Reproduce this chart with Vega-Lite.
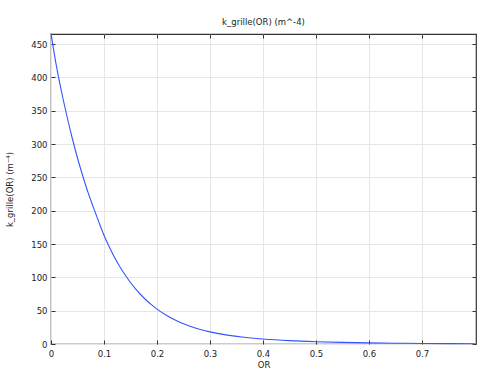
{
  "$schema": "https://vega.github.io/schema/vega-lite/v6.json",
  "width": 425,
  "height": 310,
  "autosize": {"type": "none"},
  "padding": {"left": 51, "top": 34, "right": 8, "bottom": 29},
  "background": "white",
  "config": {
    "font": "DejaVu Sans",
    "view": {"stroke": "#333", "strokeWidth": 1.2},
    "axis": {
      "labelFont": "DejaVu Sans",
      "titleFont": "DejaVu Sans",
      "labelFontSize": 8.5,
      "titleFontSize": 8.5,
      "titleFontWeight": "normal",
      "labelColor": "#222",
      "titleColor": "#222",
      "gridColor": "#e6e6e6",
      "gridWidth": 1,
      "tickColor": "#333",
      "tickSize": -4,
      "domain": false
    }
  },
  "title": {
    "text": "k_grille(OR) (m^-4)",
    "fontSize": 8.5,
    "fontWeight": "normal",
    "font": "DejaVu Sans",
    "color": "#222",
    "offset": 5
  },
  "data": {
    "values": [
      {"OR": 0.0, "k": 466},
      {"OR": 0.01, "k": 418},
      {"OR": 0.02, "k": 378},
      {"OR": 0.03, "k": 342},
      {"OR": 0.04, "k": 309},
      {"OR": 0.05, "k": 279},
      {"OR": 0.06, "k": 252},
      {"OR": 0.07, "k": 227},
      {"OR": 0.08, "k": 205},
      {"OR": 0.09, "k": 183.5},
      {"OR": 0.10, "k": 163},
      {"OR": 0.11, "k": 145.5},
      {"OR": 0.12, "k": 129.8},
      {"OR": 0.13, "k": 115.9},
      {"OR": 0.14, "k": 103.4},
      {"OR": 0.15, "k": 92.3},
      {"OR": 0.16, "k": 82.4},
      {"OR": 0.17, "k": 73.5},
      {"OR": 0.18, "k": 65.6},
      {"OR": 0.19, "k": 58.6},
      {"OR": 0.20, "k": 52.3},
      {"OR": 0.22, "k": 42},
      {"OR": 0.24, "k": 33.8},
      {"OR": 0.26, "k": 27.3},
      {"OR": 0.28, "k": 22.2},
      {"OR": 0.30, "k": 18.2},
      {"OR": 0.33, "k": 13.7},
      {"OR": 0.36, "k": 10.5},
      {"OR": 0.40, "k": 7.5},
      {"OR": 0.45, "k": 5},
      {"OR": 0.50, "k": 3.4},
      {"OR": 0.55, "k": 2.4},
      {"OR": 0.60, "k": 1.7},
      {"OR": 0.65, "k": 1.2},
      {"OR": 0.70, "k": 0.85},
      {"OR": 0.75, "k": 0.6},
      {"OR": 0.80, "k": 0.45}
    ]
  },
  "layer": [
    {
      "mark": {"type": "line", "color": "#3355ff", "strokeWidth": 1.1, "interpolate": "monotone"},
      "encoding": {
        "x": {
          "field": "OR", "type": "quantitative",
          "scale": {"domain": [0, 0.802], "nice": false, "zero": false},
          "axis": {"title": "OR", "values": [0, 0.1, 0.2, 0.3, 0.4, 0.5, 0.6, 0.7], "format": "~g", "labelPadding": 9, "titlePadding": 3, "labelFlush": false}
        },
        "y": {
          "field": "k", "type": "quantitative",
          "scale": {"domain": [0, 465], "nice": false},
          "axis": {"title": "k_grille(OR) (m⁻⁴)", "values": [0, 50, 100, 150, 200, 250, 300, 350, 400, 450], "labelPadding": 8, "titleX": -42, "titleY": 155, "titleAlign": "center", "titleBaseline": "middle", "labelFlush": false}
        }
      }
    },
    {
      "mark": {"type": "line", "opacity": 0},
      "encoding": {
        "x": {
          "field": "OR", "type": "quantitative",
          "axis": {"orient": "top", "title": null, "labels": false, "grid": false, "values": [0, 0.1, 0.2, 0.3, 0.4, 0.5, 0.6, 0.7]}
        },
        "y": {
          "field": "k", "type": "quantitative",
          "axis": {"orient": "right", "title": null, "labels": false, "grid": false, "values": [0, 50, 100, 150, 200, 250, 300, 350, 400, 450]}
        }
      }
    }
  ],
  "resolve": {"axis": {"x": "independent", "y": "independent"}}
}
